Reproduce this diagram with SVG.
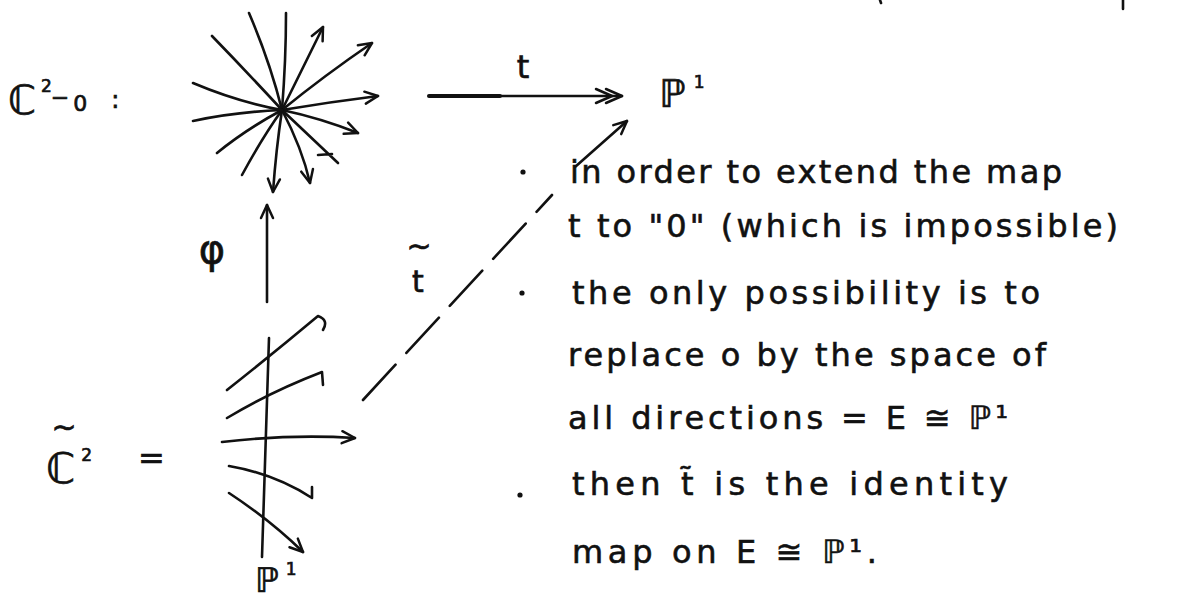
<svg xmlns="http://www.w3.org/2000/svg" width="1196" height="600" viewBox="0 0 1196 600">
<style>
.ln{fill:none;stroke:#111;stroke-width:2.6;stroke-linecap:round;stroke-linejoin:round}
.tx{font-family:"DejaVu Sans","Noto Sans",sans-serif;fill:#111;stroke:#111;stroke-width:0.7}
.note{font-family:"DejaVu Sans","Noto Sans",sans-serif;font-size:32px;fill:#111;stroke:#111;stroke-width:0.6}
.dot{fill:#111}
</style>
<defs>
<marker id="arr" markerUnits="userSpaceOnUse" orient="auto" refX="0" refY="0" markerWidth="20" markerHeight="20" overflow="visible">
<path d="M-13,-6 L0,0 L-13,6" fill="none" stroke="#111" stroke-width="2.5" stroke-linecap="round" stroke-linejoin="round"/>
</marker>
<marker id="arr2" markerUnits="userSpaceOnUse" orient="auto" refX="0" refY="0" markerWidth="30" markerHeight="20" overflow="visible">
<path d="M-16,-7 L0,0 L-16,7 M-26,-7 L-10,0 L-26,7" fill="none" stroke="#111" stroke-width="2.5" stroke-linecap="round" stroke-linejoin="round"/>
</marker>
</defs>
<rect width="1196" height="600" fill="#fff"/>

<!-- cut-off marks at top edge -->
<path class="ln" d="M880,0 L881,3 M1123,0 L1123,9"/>

<g id="punctured-plane">
<text class="tx" x="8" y="114" font-size="40">ℂ<tspan font-size="17" dx="5" dy="-22">2</tspan><tspan font-size="22" dx="-1" dy="13">−</tspan><tspan font-size="22" dx="4" dy="6">0</tspan><tspan font-size="24" dx="24" dy="-3">:</tspan></text>
<g class="ln">
<path d="M282,110 Q270,62 249,13"/>
<path d="M282,110 Q286,60 286,13"/>
<path d="M282,110 Q245,70 212,36"/>
<path d="M282,110 L323,27" marker-end="url(#arr)"/>
<path d="M282,110 Q325,75 372,43" marker-end="url(#arr)"/>
<path d="M282,110 Q330,102 378,96" marker-end="url(#arr)"/>
<path d="M282,110 Q320,118 358,133" marker-end="url(#arr)"/>
<path d="M282,110 L338,163 M318,155 L332,154"/>
<path d="M282,110 Q302,148 310,183" marker-end="url(#arr)"/>
<path d="M282,110 Q276,150 273,192" marker-end="url(#arr)"/>
<path d="M282,110 Q262,138 242,175"/>
<path d="M282,110 Q245,130 217,153"/>
<path d="M282,110 Q235,112 193,121"/>
<path d="M282,110 Q238,102 193,83"/>
</g>
</g>

<g id="P1-top">
<text class="tx" x="659" y="107" font-size="38">ℙ<tspan font-size="17" dx="8" dy="-19">1</tspan></text>
</g>

<g id="blowup">
<text class="tx" x="64" y="437" font-size="30" text-anchor="middle">~</text>
<text class="tx" x="46" y="483" font-size="42">ℂ<tspan font-size="17" dx="6" dy="-22">2</tspan></text>
<text class="tx" x="138" y="469" font-size="32">=</text>
<g class="ln">
<path d="M269,338 L262,557"/>
<path d="M227,390 Q275,352 318,316 Q329,320 323,330"/>
<path d="M227,418 Q270,392 322,372 L323,385"/>
<path d="M222,442 Q290,434 355,438" marker-end="url(#arr)"/>
<path d="M229,466 Q275,474 312,498 L312,487"/>
<path d="M229,493 Q270,520 303,552" marker-end="url(#arr)"/>
</g>
</g>

<g id="P1-bottom">
<text class="tx" x="255" y="592" font-size="34">ℙ<tspan font-size="17" dx="7" dy="-17">1</tspan></text>
</g>

<g id="connectors">
<path class="ln" d="M429,96 L622,96" marker-end="url(#arr2)"/>
<path d="M429,96 L500,96" stroke="#111" stroke-width="4" stroke-linecap="round"/>
<text class="tx" x="523" y="78" font-size="32" text-anchor="middle">t</text>
<path class="ln" d="M267,302 L267,205" marker-end="url(#arr)"/>
<text class="tx" x="212" y="263" font-size="40" text-anchor="middle">φ</text>
<path class="ln" d="M363,400 L552,195" stroke-dasharray="48,16"/>
<path class="ln" d="M575,167 L627,121" marker-end="url(#arr)"/>
<text class="tx" x="419" y="256" font-size="30" text-anchor="middle">~</text>
<text class="tx" x="418" y="292" font-size="30" text-anchor="middle">t</text>
</g>

<g id="notes">
<circle class="dot" cx="523" cy="172" r="2.6"/>
<circle class="dot" cx="522" cy="293" r="2.6"/>
<circle class="dot" cx="520" cy="495" r="2.6"/>
<text class="note" x="570" y="183" textLength="492" lengthAdjust="spacing">in order to extend the map</text>
<text class="note" x="568" y="237" textLength="550" lengthAdjust="spacing">t to "0" (which is impossible)</text>
<text class="note" x="572" y="304" textLength="468" lengthAdjust="spacing">the only possibility is to</text>
<text class="note" x="568" y="366" textLength="478" lengthAdjust="spacing">replace o by the space of</text>
<text class="note" x="568" y="429" textLength="440" lengthAdjust="spacing">all directions = E ≅ ℙ¹</text>
<text class="note" x="572" y="495" textLength="436" lengthAdjust="spacing">then t̃ is the identity</text>
<text class="note" x="572" y="563" textLength="305" lengthAdjust="spacing">map on E ≅ ℙ¹.</text>
</g>
</svg>
